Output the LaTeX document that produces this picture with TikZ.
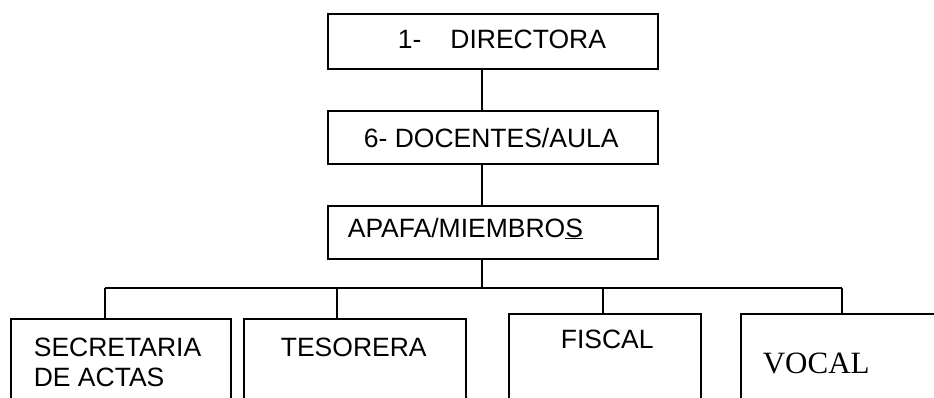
\documentclass[tikz,border=0pt]{standalone}
\usepackage{fontspec}
\setmainfont{Liberation Sans}
\newfontfamily\timesf{Liberation Serif}
\begin{document}
\begin{tikzpicture}[x=1pt,y=-1pt,line width=1.7pt,
  box/.style={draw,rectangle,inner sep=0pt,anchor=north west},
  txt/.style={anchor=base west,inner sep=0pt,font=\fontsize{26.5}{30}\selectfont},
  conn/.style={line width=1.7pt}]
\useasboundingbox (0,0) rectangle (934,397);
\clip (0,0) rectangle (934,397);
% boxes
\node[box,minimum width=330pt,minimum height=55pt] (b1) at (327,13) {};
\node[box,minimum width=330pt,minimum height=53pt] (b2) at (327,110) {};
\node[box,minimum width=330pt,minimum height=53pt] (b3) at (327,205) {};
\node[box,minimum width=220pt,minimum height=100pt] (s1) at (10,318) {};
\node[box,minimum width=222pt,minimum height=100pt] (s2) at (243,318) {};
\node[box,minimum width=192pt,minimum height=100pt] (s3) at (508,313) {};
\node[box,minimum width=220pt,minimum height=100pt] (s4) at (740,313) {};
% texts
\node[txt] (t1) at (397,48) {1-\hspace*{29pt}DIRECTORA};
\node[txt] (t2) at (363,147) {6- DOCENTES/AULA};
\node[txt] (t3) at (347,237) {APAFA/MIEMBRO\underline{S}};
\node[anchor=north west,inner sep=0pt,align=left,font=\fontsize{26.5}{30}\selectfont] (t4) at (33,337) {SECRETARIA\\DE ACTAS};
\node[txt] (t5) at (280,356) {TESORERA};
\node[txt] (t6) at (560,348) {FISCAL};
\node[txt,font=\timesf\fontsize{31}{34}\selectfont] (t7) at (762,373) {VOCAL};
% connectors
\coordinate (vx) at (482,0);
\coordinate (d1) at (105,288);
\coordinate (d2) at (337,288);
\coordinate (d3) at (603,288);
\coordinate (d4) at (842,288);
\draw[conn] (vx |- b1.south) -- (vx |- b2.north);
\draw[conn] (vx |- b2.south) -- (vx |- b3.north);
\draw[conn] (vx |- b3.south) -- (vx |- d1);
\draw[conn] (d1) -- (d4);
\draw[conn] (d1) -- (d1 |- s1.north);
\draw[conn] (d2) -- (d2 |- s2.north);
\draw[conn] (d3) -- (d3 |- s3.north);
\draw[conn] (d4) -- (d4 |- s4.north);
\end{tikzpicture}
\end{document}
